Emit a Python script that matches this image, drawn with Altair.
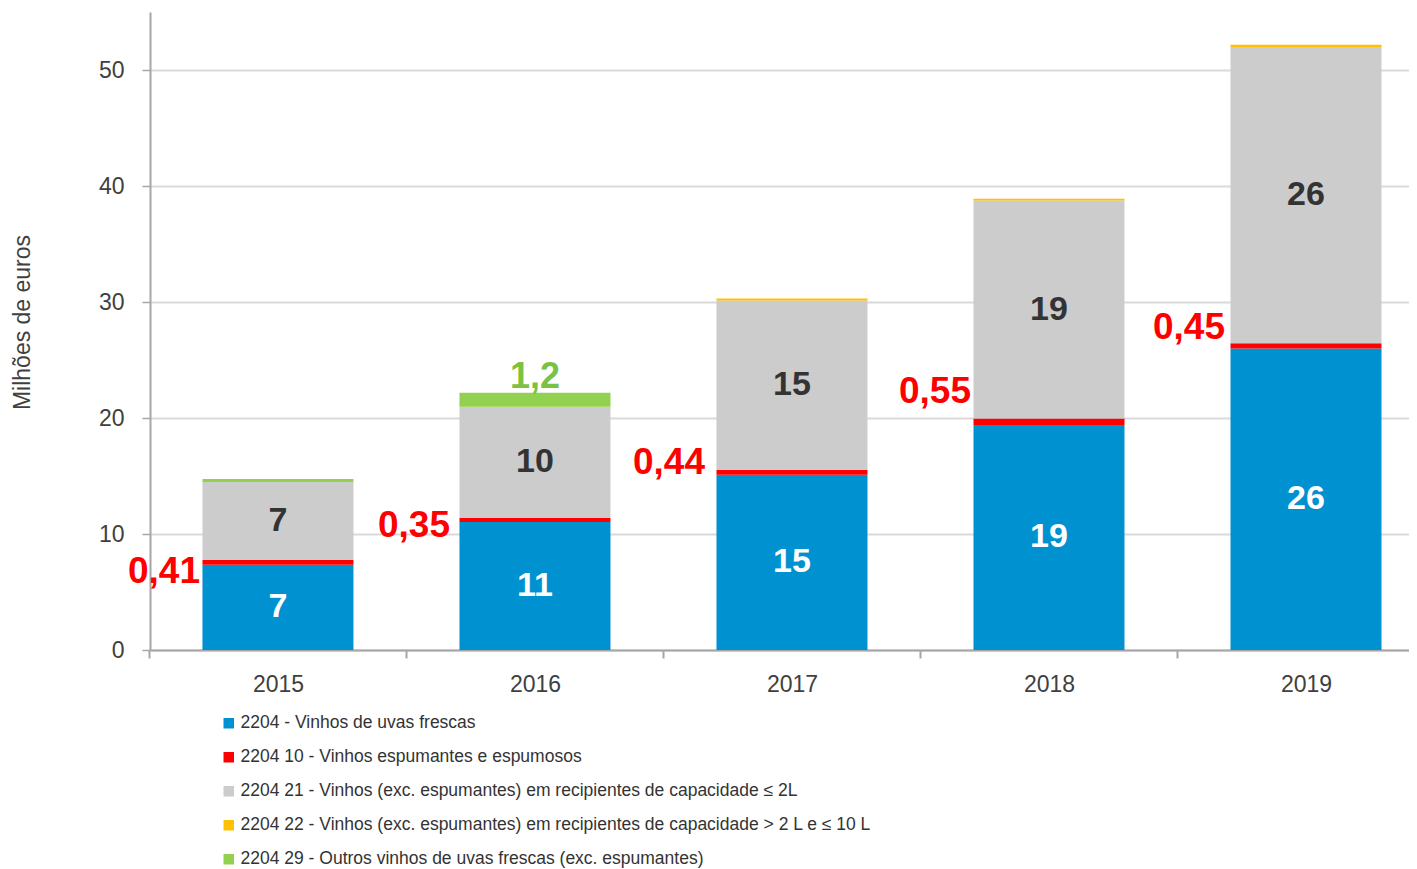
import altair as alt
import pandas as pd

years = ["2015", "2016", "2017", "2018", "2019"]
series = [
    "2204 - Vinhos de uvas frescas",
    "2204 10 - Vinhos espumantes e espumosos",
    "2204 21 - Vinhos (exc. espumantes) em recipientes de capacidade ≤ 2L",
    "2204 22 - Vinhos (exc. espumantes) em recipientes de capacidade > 2 L e ≤ 10 L",
    "2204 29 - Outros vinhos de uvas frescas (exc. espumantes)",
]
colors = ["#0091D0", "#FF0000", "#CCCCCC", "#FFC000", "#92D050"]

v_2204 = [7.35, 11.03, 15.10, 19.40, 26.00]
v_2204_10 = [0.41, 0.35, 0.44, 0.55, 0.45]
v_2204_21 = [6.72, 9.57, 14.59, 18.80, 25.53]
v_2204_22 = [0.01, 0.02, 0.17, 0.15, 0.20]
v_2204_29 = [0.25, 1.20, 0.0, 0.0, 0.0]

blue_labels = ["7", "11", "15", "19", "26"]
red_labels = ["0,41", "0,35", "0,44", "0,55", "0,45"]
gray_labels = ["7", "10", "15", "19", "26"]
green_labels = ["", "1,2", "", "", ""]
red_label_nudge = [-0.83, -0.5, 0.8, 2.6, 1.5]
red_label_shift = [0, -7, -9, 0, -3]

values = [v_2204, v_2204_10, v_2204_21, v_2204_22, v_2204_29]

rows = []
for si, (name, vals) in enumerate(zip(series, values)):
    for yi, y in enumerate(years):
        rows.append({"year": y, "series": name, "value": vals[yi], "order": si})
df = pd.DataFrame(rows)

lab = []
for i, y in enumerate(years):
    b = v_2204[i]
    r = v_2204_10[i]
    g = v_2204_21[i]
    top = b + r + g + v_2204_22[i] + v_2204_29[i]
    lab.append({"year": y, "kind": "blue", "ypos": b / 2, "text": blue_labels[i], "shift": 0})
    lab.append({"year": y, "kind": "red", "ypos": b + r / 2 + red_label_nudge[i],
                "text": red_labels[i], "shift": red_label_shift[i]})
    lab.append({"year": y, "kind": "gray", "ypos": b + r + g / 2, "text": gray_labels[i], "shift": 0})
    if green_labels[i]:
        lab.append({"year": y, "kind": "green", "ypos": top, "text": green_labels[i], "shift": 0})
labdf = pd.DataFrame(lab)

FONT = "Liberation Sans, Arial, sans-serif"
TITLE = "Milhões de euros"

xscale = alt.Scale(paddingInner=0.4125, paddingOuter=0.1556, align=0.656)
yscale = alt.Scale(domain=[0, 55], nice=False)

xaxis = alt.Axis(
    labelAngle=0, labelFont=FONT, labelFontSize=23, labelColor="#404040",
    domainColor="#A6A6A6", domainWidth=2, tickColor="#A6A6A6", tickWidth=2,
    tickSize=8, tickOffset=-128.5, labelOffset=128.5, labelPadding=15,
    grid=False,
)
yaxis = alt.Axis(
    values=[0, 10, 20, 30, 40, 50], labelFont=FONT, labelFontSize=23,
    labelColor="#404040", domainColor="#A6A6A6", domainWidth=2,
    tickColor="#A6A6A6", tickWidth=1.5, tickSize=8, labelPadding=18,
    grid=True, gridColor="#D9D9D9", gridWidth=2,
    titleFont=FONT, titleFontSize=23, titleFontWeight="normal",
    titleColor="#404040", titlePadding=64, titleY=310,
)

x_enc = alt.X("year:N", title=None, scale=xscale, axis=xaxis)

bars = alt.Chart(df).mark_bar().encode(
    x=x_enc,
    y=alt.Y("value:Q", stack="zero", scale=yscale, axis=yaxis, title=TITLE),
    color=alt.Color(
        "series:N",
        scale=alt.Scale(domain=series, range=colors),
        legend=alt.Legend(
            title=None, orient="none", legendX=70, legendY=702.5,
            direction="vertical", symbolType="square", symbolSize=110,
            symbolStrokeWidth=0, labelFont=FONT, labelFontSize=17.5,
            labelColor="#333333", labelLimit=0, rowPadding=15,
            labelOffset=3, padding=0,
        ),
    ),
    order=alt.Order("order:Q"),
)

def text_layer(flt, color, size, **kw):
    return alt.Chart(labdf).transform_filter(flt).mark_text(
        font=FONT, fontSize=size, fontWeight="bold", color=color, **kw
    ).encode(
        x=alt.X("year:N", title=None),
        y=alt.Y("ypos:Q", title=TITLE),
        text="text:N",
    )

t_blue = text_layer(alt.datum.kind == "blue", "#FFFFFF", 34, baseline="middle")
t_gray = text_layer(alt.datum.kind == "gray", "#333333", 34, baseline="middle")
t_green = text_layer(alt.datum.kind == "green", "#7CC242", 36, baseline="bottom", dy=3)
red_layers = [
    text_layer((alt.datum.kind == "red") & (alt.datum.shift == s), "#FF0000", 37,
               baseline="middle", align="right", dx=-78 + s)
    for s in sorted(set(red_label_shift))
]

chart = alt.layer(bars, t_blue, t_gray, t_green, *red_layers).properties(
    width=1259, height=638,
    padding={"left": 3, "top": 4, "right": 0, "bottom": 0},
).configure_view(stroke=None)

chart.save("out.html", embed_options={"renderer": "svg", "actions": False})
